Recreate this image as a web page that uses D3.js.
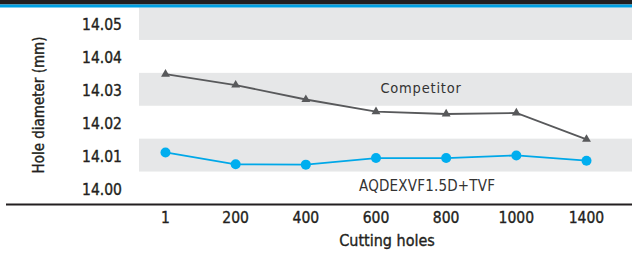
<!DOCTYPE html>
<html>
<head>
<meta charset="utf-8">
<script src="https://cdn.jsdelivr.net/npm/d3@7"></script>
<style>
  body { margin: 0; background: #fff; }
  svg text { font-family: "DejaVu Sans Condensed", "Liberation Sans Narrow", sans-serif; fill: #231f20; }
  svg text.heavy { stroke: #231f20; stroke-width: 0.35px; }
</style>
</head>
<body>
<svg></svg>
<script>
const holes = ["1", "200", "400", "600", "800", "1000", "1400"];
const competitor = [14.0346, 14.0313, 14.0269, 14.0232, 14.0225, 14.0228, 14.0148];
const aqdex = [14.0108, 14.0072, 14.0071, 14.0091, 14.0091, 14.0099, 14.0083];
const yTicks = [14.00, 14.01, 14.02, 14.03, 14.04, 14.05];
const bandCenters = [14.01, 14.03, 14.05];

const width = 632;
const height = 254;
const svg = d3.select("svg")
              .attr("width", width)
              .attr("height", height);

const x = d3.scalePoint().domain(holes).range([165.5, 586.5]);
const y = d3.scaleLinear().domain([14.00, 14.05]).range([188, 23.5]);

// grey bands behind every other tick
svg.selectAll(".band")
    .data(bandCenters)
    .enter()
    .append("rect")
      .attr("class", "band")
      .attr("x", 139)
      .attr("width", width - 139)
      .attr("y", d => Math.max(7.5, y(d + 0.005)))
      .attr("height", d => y(d - 0.005) - Math.max(7.5, y(d + 0.005)))
      .style("fill", "#e6e7e8");

// top strip
svg.append("rect").attr("x", 0).attr("y", 0).attr("width", width).attr("height", 4.5).style("fill", "#231f20");
svg.append("rect").attr("x", 0).attr("y", 4.5).attr("width", width).attr("height", 3).style("fill", "#00a0e3");

// bottom rule
svg.append("line")
    .attr("x1", 6).attr("x2", width)
    .attr("y1", 204.5).attr("y2", 204.5)
    .style("stroke", "#231f20")
    .style("stroke-width", 2);

// y labels
svg.selectAll(".ytick")
    .data(yTicks)
    .enter()
    .append("text")
      .attr("class", "ytick heavy")
      .attr("x", 122)
      .attr("y", d => y(d) + 2)
      .attr("text-anchor", "end")
      .attr("dominant-baseline", "middle")
      .style("font-size", "15.5px")
      .text(d => d.toFixed(2));

// x labels
svg.selectAll(".xtick")
    .data(holes)
    .enter()
    .append("text")
      .attr("class", "xtick heavy")
      .attr("x", d => x(d))
      .attr("y", 218)
      .attr("text-anchor", "middle")
      .attr("dominant-baseline", "middle")
      .style("font-size", "15.5px")
      .text(d => d);

svg.append("text")
    .attr("class", "heavy")
    .attr("x", 387)
    .attr("y", 241)
    .attr("text-anchor", "middle")
    .attr("dominant-baseline", "middle")
    .style("font-size", "16px")
    .text("Cutting holes");

svg.append("text")
    .attr("class", "heavy")
    .attr("transform", "translate(39,105) rotate(-90)")
    .attr("text-anchor", "middle")
    .attr("dominant-baseline", "middle")
    .style("font-size", "15px")
    .text("Hole diameter (mm)");

const line = d3.line()
    .x((d, i) => x(holes[i]))
    .y(d => y(d));

// competitor series
svg.append("path")
    .datum(competitor)
    .attr("d", line)
    .style("fill", "none")
    .style("stroke", "#58595b")
    .style("stroke-width", 1.8);

svg.selectAll(".tri")
    .data(competitor)
    .enter()
    .append("path")
      .attr("class", "tri")
      .attr("d", d3.symbol().type(d3.symbolTriangle).size(34))
      .attr("transform", (d, i) => "translate(" + x(holes[i]) + "," + y(d) + ")")
      .style("fill", "#58595b");

// aqdex series
svg.append("path")
    .datum(aqdex)
    .attr("d", line)
    .style("fill", "none")
    .style("stroke", "#00a8e8")
    .style("stroke-width", 1.8);

svg.selectAll(".dot")
    .data(aqdex)
    .enter()
    .append("circle")
      .attr("class", "dot")
      .attr("cx", (d, i) => x(holes[i]))
      .attr("cy", d => y(d))
      .attr("r", 5)
      .style("fill", "#00aeef");

// series names
svg.append("text")
    .attr("x", (x("600") + x("800")) / 2 + 10)
    .attr("y", y(14.03))
    .attr("text-anchor", "middle")
    .attr("dominant-baseline", "middle")
    .style("font-size", "14.5px")
    .style("letter-spacing", "0.8px")
    .style("fill", "#333")
    .text("Competitor");

svg.append("text")
    .attr("x", (x("600") + x("800")) / 2 + 16)
    .attr("y", y(14.00) - 2)
    .attr("text-anchor", "middle")
    .attr("dominant-baseline", "middle")
    .style("font-size", "15px")
    .style("letter-spacing", "0.2px")
    .style("fill", "#333")
    .text("AQDEXVF1.5D+TVF");
</script>
</body>
</html>
